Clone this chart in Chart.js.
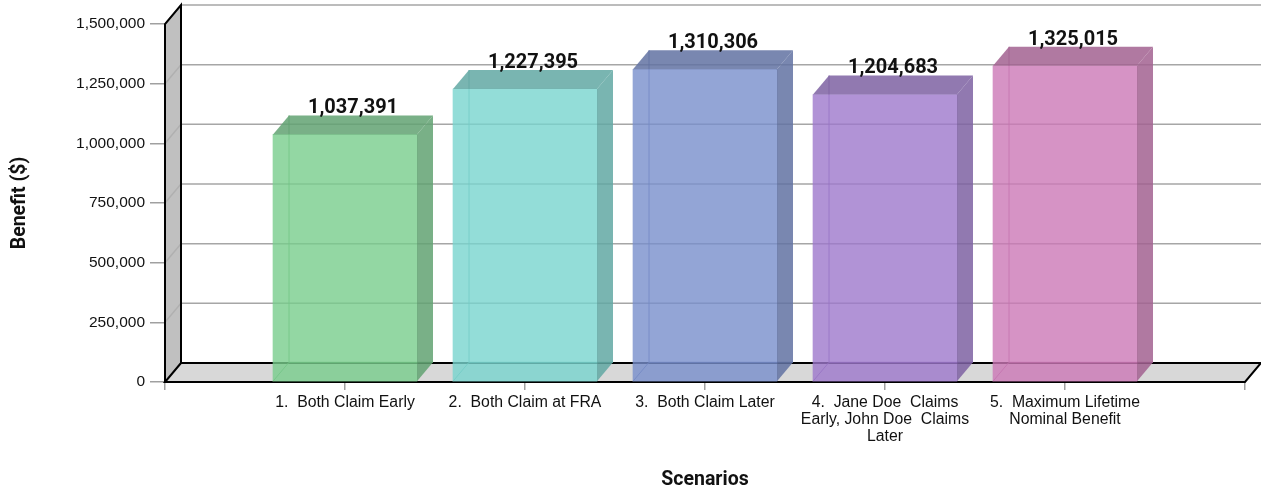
<!DOCTYPE html>
<html>
<head>
<meta charset="utf-8">
<script src="https://cdn.jsdelivr.net/npm/chart.js@4.4.1/dist/chart.umd.min.js"></script>
<style>
  html, body { margin: 0; padding: 0; background: #fff; }
  #wrap { width: 1261px; height: 492px; position: relative; }
</style>
</head>
<body>
<div id="wrap"><canvas id="benefitChart"></canvas></div>
<script>
// data
const categories = [
    '',
    '1.  Both Claim Early',
    '2.  Both Claim at FRA',
    '3.  Both Claim Later',
    ['4.  Jane Doe  Claims', 'Early, John Doe  Claims', 'Later'],
    ['5.  Maximum Lifetime', 'Nominal Benefit'],
    ''
];
const benefits = [null, 1037391, 1227395, 1310306, 1204683, 1325015, null];
const yTicks = [0, 250000, 500000, 750000, 1000000, 1250000, 1500000];

const frontColors = [
    null,
    'rgba(120, 205, 140, 0.8)',
    'rgba(120, 212, 206, 0.8)',
    'rgba(120, 142, 204, 0.8)',
    'rgba(157, 120, 204, 0.8)',
    'rgba(204, 120, 182, 0.8)',
    null
];
const sideColors = [
    null,
    'rgba(98, 162, 114, 0.85)',
    'rgba(98, 168, 163, 0.85)',
    'rgba(98, 114, 162, 0.85)',
    'rgba(126, 98, 162, 0.85)',
    'rgba(162, 98, 144, 0.85)',
    null
];

const DX = 16;   // depth offset
const DY = -19;

const depthPlugin = {
    id: 'depth3d',
    beforeDatasetsDraw(chart) {
        const { ctx, chartArea: a, scales: { y } } = chart;
        ctx.save();
        // left wall
        ctx.fillStyle = '#c0c0c0';
        ctx.beginPath();
        ctx.moveTo(a.left, a.top);
        ctx.lineTo(a.left + DX, a.top + DY);
        ctx.lineTo(a.left + DX, a.bottom + DY);
        ctx.lineTo(a.left, a.bottom);
        ctx.closePath();
        ctx.fill();
        // floor
        ctx.fillStyle = '#d8d8d8';
        ctx.beginPath();
        ctx.moveTo(a.left, a.bottom);
        ctx.lineTo(a.right, a.bottom);
        ctx.lineTo(a.right + DX, a.bottom + DY);
        ctx.lineTo(a.left + DX, a.bottom + DY);
        ctx.closePath();
        ctx.fill();

        // back grid lines
        ctx.lineWidth = 1.5;
        yTicks.forEach(v => {
            if (v === 0) return;
            const py = y.getPixelForValue(v);
            ctx.strokeStyle = '#a6a6a6';
            ctx.beginPath();
            ctx.moveTo(a.left + DX, py + DY);
            ctx.lineTo(a.right + DX, py + DY);
            ctx.stroke();
            ctx.strokeStyle = '#b0b0b0';
            ctx.beginPath();
            ctx.moveTo(a.left, py);
            ctx.lineTo(a.left + DX, py + DY);
            ctx.stroke();
        });

        // wall / floor edges
        ctx.strokeStyle = '#000';
        ctx.lineWidth = 2;
        ctx.beginPath();
        ctx.moveTo(a.left, a.bottom);
        ctx.lineTo(a.left, a.top);
        ctx.lineTo(a.left + DX, a.top + DY);
        ctx.lineTo(a.left + DX, a.bottom + DY);
        ctx.lineTo(a.right + DX, a.bottom + DY);
        ctx.lineTo(a.right, a.bottom);
        ctx.lineTo(a.left, a.bottom);
        ctx.lineTo(a.left + DX, a.bottom + DY);
        ctx.stroke();

        // hidden back edges of the bars
        const meta = chart.getDatasetMeta(0);
        ctx.lineWidth = 1;
        meta.data.forEach((bar, i) => {
            if (benefits[i] == null) return;
            const p = bar.getProps(['x', 'y', 'base', 'width'], true);
            const l = p.x - p.width / 2;
            ctx.strokeStyle = sideColors[i];
            ctx.beginPath();
            ctx.moveTo(l + DX, p.y + DY);
            ctx.lineTo(l + DX, p.base + DY);
            ctx.lineTo(l + p.width + DX, p.base + DY);
            ctx.moveTo(l + DX, p.base + DY);
            ctx.lineTo(l, p.base);
            ctx.stroke();
        });
        ctx.restore();
    },
    afterDatasetsDraw(chart) {
        const { ctx } = chart;
        const meta = chart.getDatasetMeta(0);
        ctx.save();
        meta.data.forEach((bar, i) => {
            if (benefits[i] == null) return;
            const p = bar.getProps(['x', 'y', 'base', 'width'], true);
            const l = p.x - p.width / 2;
            const r = p.x + p.width / 2;
            ctx.fillStyle = sideColors[i];
            // top
            ctx.beginPath();
            ctx.moveTo(l, p.y);
            ctx.lineTo(l + DX, p.y + DY);
            ctx.lineTo(r + DX, p.y + DY);
            ctx.lineTo(r, p.y);
            ctx.closePath();
            ctx.fill();
            // side
            ctx.beginPath();
            ctx.moveTo(r, p.y);
            ctx.lineTo(r + DX, p.y + DY);
            ctx.lineTo(r + DX, p.base + DY);
            ctx.lineTo(r, p.base);
            ctx.closePath();
            ctx.fill();
            // value label
            ctx.fillStyle = '#111';
            ctx.font = 'bold 20px Roboto, "Liberation Sans", sans-serif';
            ctx.textAlign = 'center';
            ctx.textBaseline = 'alphabetic';
            ctx.fillText(benefits[i].toLocaleString('en-US'), p.x + DX / 2, p.y + DY - 2);
        });
        ctx.restore();
    }
};

new Chart(document.getElementById('benefitChart'), {
    type: 'bar',
    data: {
        labels: categories,
        datasets: [{
            label: 'Benefit',
            data: benefits,
            backgroundColor: frontColors,
            borderWidth: 0,
            barThickness: 144
        }]
    },
    options: {
        responsive: true,
        maintainAspectRatio: false,
        animation: false,
        layout: { padding: { top: 24, right: 16, left: 0, bottom: 0 } },
        plugins: {
            legend: { display: false },
            tooltip: { enabled: false }
        },
        scales: {
            x: {
                offset: false,
                grid: {
                    offset: false,
                    drawOnChartArea: false,
                    drawTicks: true,
                    tickLength: 8,
                    color: '#a0a0a0',
                    lineWidth: 1.5
                },
                border: { display: false },
                ticks: {
                    autoSkip: false,
                    maxRotation: 0,
                    padding: 4,
                    color: '#111',
                    font: { family: '"Liberation Sans", Arial, sans-serif', size: 15.8, lineHeight: 1.08 }
                },
                title: {
                    display: true,
                    text: 'Scenarios',
                    color: '#111',
                    font: { family: 'Roboto, sans-serif', size: 19.5, weight: 'bold' },
                    padding: { top: 0, bottom: 0 }
                },
                afterFit(scale) { scale.height = 110; }
            },
            y: {
                min: 0,
                max: 1500000,
                afterBuildTicks(scale) { scale.ticks = yTicks.map(v => ({ value: v })); },
                grid: {
                    drawOnChartArea: false,
                    drawTicks: true,
                    tickLength: 15,
                    color: '#a0a0a0',
                    lineWidth: 1.5
                },
                border: { display: false },
                ticks: {
                    padding: 5,
                    color: '#111',
                    font: { family: '"Liberation Sans", Arial, sans-serif', size: 15.5 },
                    callback: v => v.toLocaleString('en-US')
                },
                title: {
                    display: true,
                    text: 'Benefit ($)',
                    color: '#111',
                    font: { family: 'Roboto, sans-serif', size: 19.5, weight: 'bold' },
                    padding: { top: 8, bottom: 0 }
                },
                afterFit(scale) { scale.width = 165; }
            }
        }
    },
    plugins: [depthPlugin]
});
</script>
</body>
</html>
